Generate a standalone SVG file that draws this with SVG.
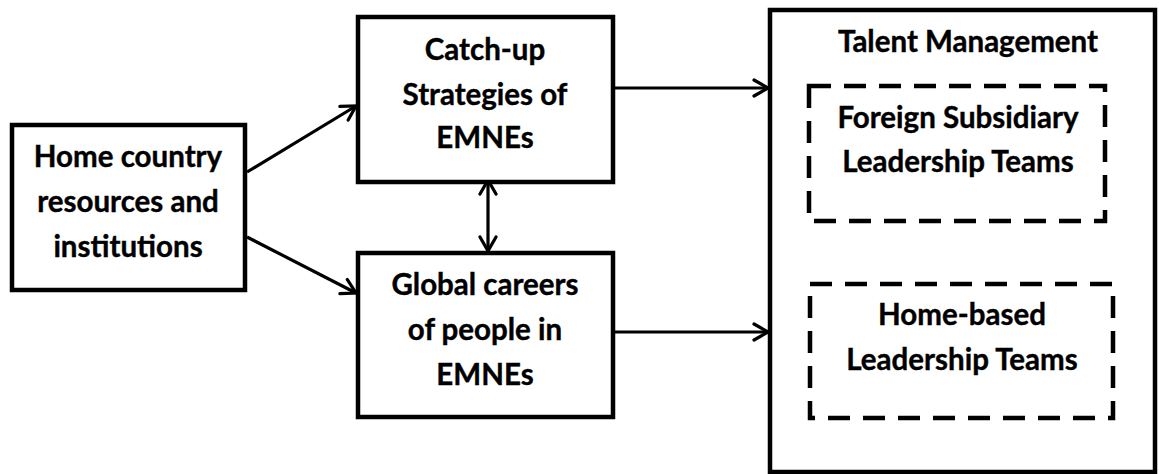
<svg xmlns="http://www.w3.org/2000/svg" width="1159" height="474" viewBox="0 0 1159 474">
<style>
.box{fill:#fff;stroke:#000;stroke-width:4.5}
.dash{fill:none;stroke:#000;stroke-width:4.5;stroke-dasharray:22 13}
.t{font-family:Lato,"Open Sans","Liberation Sans",sans-serif;font-weight:bold;font-size:29.5px;text-anchor:middle;fill:#000;stroke:#000;stroke-width:0.4}
.c{stroke:#000;stroke-width:3.2;fill:none}
</style>
<defs>
<marker id="ah" viewBox="0 0 18 20" refX="16" refY="10" markerWidth="18" markerHeight="20" markerUnits="userSpaceOnUse" orient="auto-start-reverse">
<path d="M2,2 L16,10 L2,18" fill="none" stroke="#000" stroke-width="3.2" stroke-linecap="round"/>
</marker>
</defs>
<rect width="1159" height="474" fill="#fff"/>
<g id="connectors">
<line class="c" x1="247" y1="172" x2="356" y2="106" marker-end="url(#ah)"/>
<line class="c" x1="247" y1="237" x2="356" y2="293" marker-end="url(#ah)"/>
<line class="c" x1="488" y1="180" x2="488" y2="251" marker-start="url(#ah)" marker-end="url(#ah)"/>
<line class="c" x1="613" y1="88" x2="768" y2="88" marker-end="url(#ah)"/>
<line class="c" x1="613" y1="332" x2="768" y2="332" marker-end="url(#ah)"/>
</g>
<g id="home">
<rect class="box" x="12" y="125" width="233" height="165"/>
<text class="t" x="128" y="167">Home country</text>
<text class="t" x="128" y="212">resources and</text>
<text class="t" x="128" y="257">institutions</text>
</g>
<g id="catchup">
<rect class="box" x="358" y="17" width="255" height="165"/>
<text class="t" x="485" y="60">Catch-up</text>
<text class="t" x="485" y="105">Strategies of</text>
<text class="t" x="485" y="148">EMNEs</text>
</g>
<g id="global">
<rect class="box" x="358" y="253" width="255" height="164"/>
<text class="t" x="485" y="295">Global careers</text>
<text class="t" x="485" y="340">of people in</text>
<text class="t" x="485" y="385">EMNEs</text>
</g>
<g id="talent">
<rect class="box" x="770" y="10" width="385" height="462"/>
<text class="t" x="968" y="52">Talent Management</text>
</g>
<g id="foreign">
<rect class="dash" x="809" y="86" width="296" height="135"/>
<text class="t" x="958" y="128">Foreign Subsidiary</text>
<text class="t" x="958" y="172">Leadership Teams</text>
</g>
<g id="homebased">
<rect class="dash" x="810" y="284" width="303" height="134"/>
<text class="t" x="962" y="325">Home-based</text>
<text class="t" x="962" y="370">Leadership Teams</text>
</g>
</svg>
